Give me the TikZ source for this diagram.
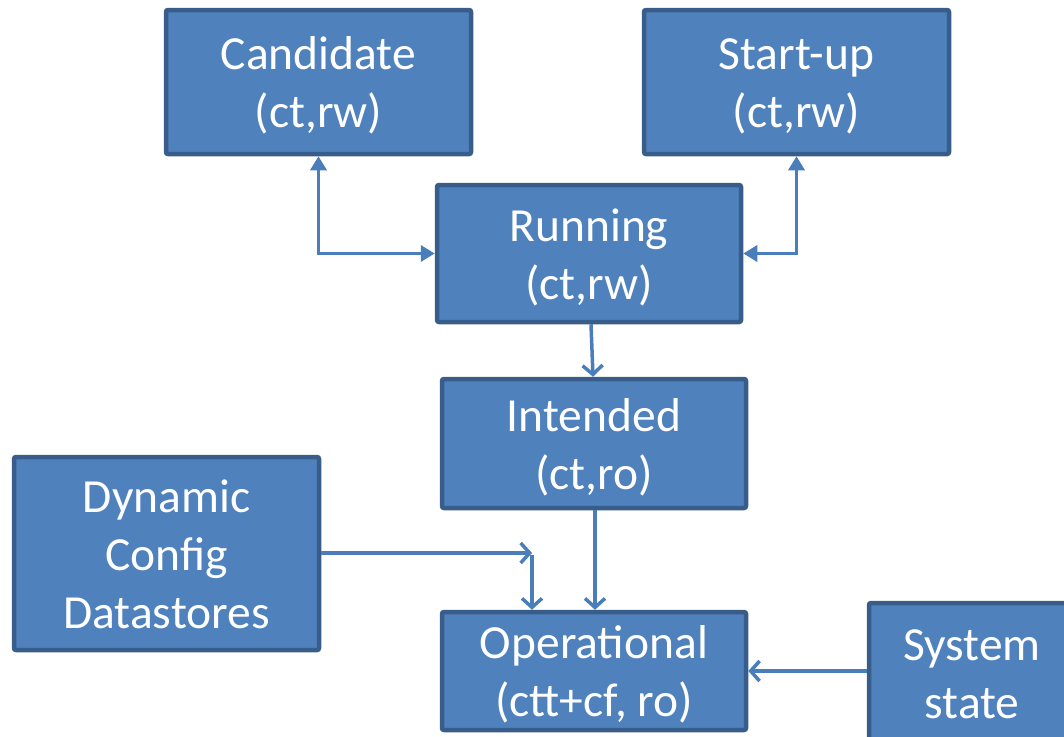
\documentclass[tikz,border=0pt]{standalone}
\usepackage{fontspec}
\setmainfont{Carlito}
\usetikzlibrary{arrows.meta}
\definecolor{boxfill}{HTML}{4F81BD}
\definecolor{boxline}{HTML}{385D8A}
\definecolor{conn}{HTML}{4A7EBB}
\newcommand{\topst}{\rule{0pt}{45pt}}
\newcommand{\botst}{\rule[-12pt]{0pt}{12pt}}
\tikzset{
  box/.style={draw=boxline, fill=boxfill, line width=4.5pt, rounded corners=2pt,
    text=white, align=center, inner sep=0pt,
    font=\fontsize{47.5pt}{58pt}\selectfont},
  tri/.style={draw=conn, line width=3.5pt, {Triangle[length=14pt,width=16pt]}-{Triangle[length=14pt,width=16pt]}},
  barb/.style={draw=conn, line width=3.5pt, -{Straight Barb[length=9pt,width=20pt]}},
}
\begin{document}
\begin{tikzpicture}[x=1pt,y=-1pt]
\useasboundingbox (0,0) rectangle (1064,736);
\clip (0,0) rectangle (1064,736);
\node[box, minimum width=305pt, minimum height=144pt] (cand) at (318.5,82) {\topst Candidate\\(ct,rw)\botst};
\node[box, minimum width=305pt, minimum height=144pt] (start) at (796.5,82) {\topst Start-up\\(ct,rw)\botst};
\node[box, minimum width=304pt, minimum height=137pt] (run) at (589,253.5) {\topst Running\\(ct,rw)\botst};
\node[box, minimum width=304pt, minimum height=129pt] (int) at (594,443.5) {\topst Intended\\(ct,ro)\botst};
\node[box, minimum width=304pt, minimum height=118pt] (op) at (594,671) {\topst Operational\\(ctt+cf, ro)\botst};
\node[box, minimum width=305pt, minimum height=193pt] (dyn) at (166.5,553.5) {\topst Dynamic\\Config\\Datastores\botst};
\node[box, minimum width=206pt, minimum height=139pt] (sys) at (972,672.5) {\topst System\\state\botst};
\coordinate (j) at (532,553);
\draw[tri] (cand.south) |- (run.west);
\draw[tri] (start.south) |- (run.east);
\draw[barb] ([xshift=2pt]run.south) -- ([xshift=-1pt]int.north);
\draw[barb] ([xshift=1pt]int.south) -- ([xshift=1pt]op.north);
\draw[barb] (dyn.east |- j) -- (j);
\draw[barb] ([yshift=-2pt]j) -- (op.north -| j);
\draw[barb] (sys.west |- op.east) -- (op.east);
\end{tikzpicture}
\end{document}
